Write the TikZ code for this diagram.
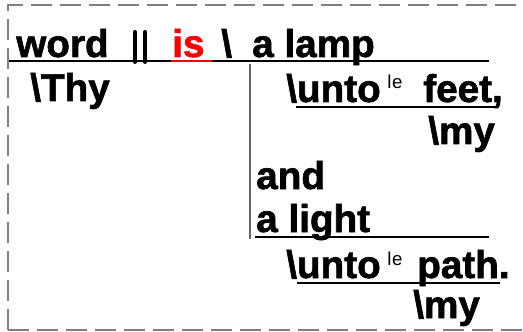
\documentclass[tikz,border=0pt]{standalone}
\usepackage{fontspec}
\setmainfont{Liberation Sans}[BoldFeatures={FakeBold=1.6}]
\begin{document}
\begin{tikzpicture}[x=0.75pt,y=-0.75pt,
  wrd/.style={anchor=base west,inner sep=0pt,font=\fontsize{29}{30}\selectfont\bfseries},
  supx/.style={anchor=base west,inner sep=0pt,font=\fontsize{14}{15}\selectfont},
  rule/.style={line width=1.5pt},
  divider/.style={line width=3pt,line cap=round},
  frame/.style={draw=gray,line width=1.5pt,dash pattern=on 15.75pt off 6pt}]
\useasboundingbox (0,0) rectangle (523,331);
% frame
\draw[frame] (8,330) -- (8,5) -- (545,5);
\draw[frame] (8,330) -- (545,330);
% main line
\node[wrd] (word) at (16,57) {word};
\node[wrd,text=red] (is) at (172,57) {is};
\node[wrd] (bs) at (221,57) {\textbackslash};
\node[wrd] (lamp) at (252,57) {a lamp};
\coordinate (m0) at (9,61);
\coordinate (m1) at (171,61);
\coordinate (m2) at (212,61);
\coordinate (m3) at (489,61);
\draw[rule] (m0) -- (m1);
\draw[rule,red] (m1) -- (m2);
\draw[rule] (m2) -- (m3);
\coordinate (d1a) at (135,32); \coordinate (d1b) at (135,62);
\coordinate (d2a) at (145,32); \coordinate (d2b) at (145,62);
\draw[divider] (d1a) -- (d1b);
\draw[divider] (d2a) -- (d2b);
% subject modifier
\node[wrd] (thy) at (30,101) {\textbackslash Thy};
% vertical
\coordinate (v0) at (250,64); \coordinate (v1) at (250,239);
\draw[gray!80!black,line width=0.9pt] (v0) -- (v1);
% right side
\node[wrd] (unto1) at (286,102) {\textbackslash unto};
\node[supx] (le1) at (387,89) {l\kern0.5pt e};
\node[wrd] (feet) at (423,102) {feet,};
\coordinate (u1a) at (296,107); \coordinate (u1b) at (497,107);
\draw[rule] (u1a) -- (u1b);
\node[wrd] (my1) at (428,144) {\textbackslash my};
\node[wrd] (and) at (256,189) {and};
\node[wrd] (light) at (256,232) {a light};
\coordinate (u2a) at (255,237); \coordinate (u2b) at (489,237);
\draw[rule] (u2a) -- (u2b);
\node[wrd] (unto2) at (286,278) {\textbackslash unto};
\node[supx] (le2) at (387,265) {l\kern0.5pt e};
\node[wrd] (path) at (417,278) {path.};
\coordinate (u3a) at (297,283); \coordinate (u3b) at (500,283);
\draw[rule] (u3a) -- (u3b);
\node[wrd] (my2) at (413,318) {\textbackslash my};
\end{tikzpicture}
\end{document}
